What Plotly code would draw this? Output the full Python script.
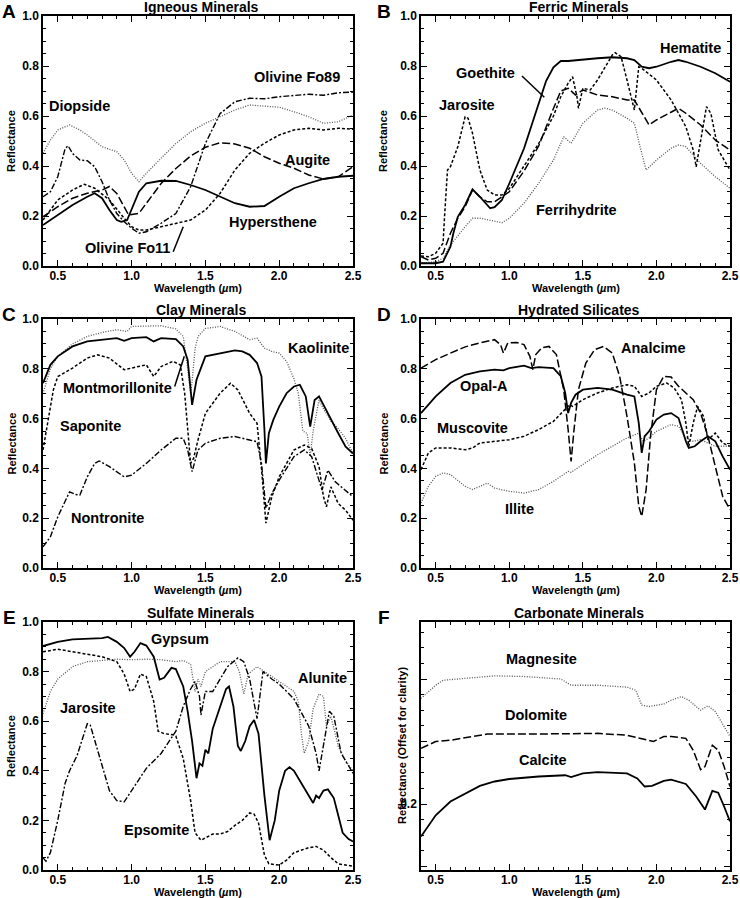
import plotly.graph_objects as go

# ---------------- Panel A: Igneous Minerals ----------------
a_hyp_wl = [0.4,0.5,0.6,0.7,0.75,0.8,0.85,0.9,0.93,0.97,1.0,1.05,1.1,1.2,1.3,1.4,1.5,1.6,1.7,1.8,1.9,2.0,2.1,2.2,2.3,2.4,2.5]
a_hyp_r = [0.164,0.204,0.244,0.277,0.291,0.271,0.224,0.184,0.177,0.184,0.224,0.297,0.331,0.341,0.34,0.324,0.304,0.277,0.251,0.237,0.24,0.277,0.311,0.331,0.348,0.357,0.361]
a_aug_wl = [0.4,0.5,0.6,0.7,0.8,0.85,0.9,0.95,0.98,1.05,1.1,1.2,1.3,1.4,1.5,1.6,1.7,1.8,1.9,2.0,2.1,2.2,2.3,2.4,2.5]
a_aug_r = [0.197,0.237,0.271,0.291,0.304,0.318,0.29,0.237,0.204,0.211,0.25,0.33,0.39,0.44,0.475,0.493,0.488,0.471,0.437,0.411,0.391,0.364,0.348,0.357,0.397]
a_fo11_wl = [0.4,0.5,0.6,0.68,0.75,0.85,0.95,1.0,1.05,1.1,1.2,1.3,1.4,1.5,1.6,1.7,1.8,1.9,2.0,2.1,2.2,2.3,2.4,2.5]
a_fo11_r = [0.184,0.264,0.304,0.327,0.311,0.264,0.191,0.157,0.144,0.144,0.157,0.171,0.184,0.224,0.291,0.384,0.451,0.491,0.524,0.544,0.551,0.544,0.551,0.547]
a_fo89_wl = [0.4,0.45,0.5,0.55,0.57,0.6,0.65,0.7,0.75,0.8,0.85,0.9,0.95,1.0,1.05,1.1,1.2,1.3,1.4,1.5,1.6,1.7,1.8,1.9,2.0,2.1,2.2,2.3,2.4,2.5]
a_fo89_r = [0.277,0.297,0.357,0.47,0.481,0.45,0.424,0.421,0.397,0.337,0.264,0.21,0.177,0.151,0.131,0.137,0.171,0.21,0.317,0.49,0.61,0.657,0.671,0.669,0.677,0.681,0.687,0.683,0.693,0.696]
a_dio_wl = [0.4,0.45,0.5,0.58,0.65,0.7,0.8,0.9,0.95,1.0,1.05,1.1,1.2,1.3,1.4,1.5,1.6,1.7,1.8,1.9,2.0,2.1,2.2,2.3,2.4,2.5]
a_dio_r = [0.451,0.504,0.544,0.564,0.544,0.524,0.477,0.457,0.424,0.371,0.337,0.371,0.431,0.49,0.537,0.571,0.597,0.624,0.644,0.64,0.635,0.617,0.597,0.571,0.577,0.604]

# ---------------- Panel B: Ferric Minerals ----------------
b_hem_wl = [0.4,0.5,0.55,0.58,0.6,0.62,0.65,0.7,0.75,0.8,0.87,0.9,0.95,1.0,1.05,1.1,1.15,1.2,1.25,1.3,1.35,1.4,1.5,1.6,1.7,1.8,1.85,1.9,1.95,2.0,2.1,2.15,2.2,2.3,2.4,2.5]
b_hem_r = [0.011,0.011,0.017,0.051,0.077,0.131,0.197,0.244,0.307,0.277,0.231,0.235,0.264,0.33,0.40,0.47,0.56,0.65,0.74,0.795,0.82,0.82,0.827,0.831,0.835,0.831,0.824,0.797,0.791,0.797,0.817,0.824,0.817,0.797,0.771,0.737]
b_goe_wl = [0.4,0.45,0.5,0.55,0.6,0.65,0.7,0.75,0.8,0.85,0.9,0.95,1.0,1.1,1.2,1.3,1.35,1.4,1.45,1.5,1.6,1.7,1.8,1.85,1.9,1.95,2.0,2.1,2.15,2.2,2.3,2.4,2.5]
b_goe_r = [0.037,0.024,0.031,0.051,0.131,0.191,0.237,0.304,0.277,0.257,0.257,0.277,0.297,0.38,0.48,0.63,0.70,0.711,0.684,0.704,0.684,0.677,0.664,0.664,0.611,0.564,0.584,0.617,0.631,0.611,0.564,0.504,0.464]
b_jar_wl = [0.4,0.45,0.5,0.55,0.56,0.58,0.6,0.65,0.7,0.72,0.75,0.8,0.85,0.9,0.95,1.0,1.1,1.2,1.3,1.35,1.4,1.43,1.46,1.47,1.5,1.55,1.6,1.65,1.7,1.72,1.76,1.8,1.85,1.88,1.9,2.0,2.1,2.2,2.25,2.27,2.3,2.34,2.37,2.42,2.5]
b_jar_r = [0.04,0.037,0.051,0.091,0.197,0.384,0.397,0.477,0.597,0.591,0.531,0.384,0.304,0.284,0.284,0.31,0.40,0.49,0.60,0.677,0.731,0.757,0.677,0.631,0.711,0.704,0.744,0.797,0.844,0.853,0.837,0.744,0.624,0.797,0.791,0.744,0.664,0.557,0.464,0.397,0.504,0.637,0.611,0.464,0.384]
b_fer_wl = [0.4,0.5,0.55,0.6,0.7,0.75,0.8,0.9,0.95,1.0,1.1,1.2,1.3,1.37,1.42,1.5,1.6,1.65,1.7,1.8,1.85,1.9,1.93,2.0,2.1,2.15,2.2,2.3,2.4,2.5]
b_fer_r = [0.011,0.017,0.031,0.084,0.157,0.191,0.191,0.177,0.173,0.191,0.251,0.331,0.424,0.517,0.491,0.571,0.624,0.631,0.624,0.591,0.571,0.451,0.384,0.424,0.471,0.484,0.477,0.411,0.357,0.311]

# ---------------- Panel C: Clay Minerals ----------------
c_kao_wl = [0.4,0.45,0.5,0.6,0.7,0.8,0.9,0.97,1.0,1.1,1.2,1.3,1.35,1.38,1.4,1.41,1.43,1.45,1.5,1.6,1.7,1.8,1.85,1.9,1.95,2.0,2.05,2.1,2.13,2.16,2.19,2.21,2.23,2.27,2.3,2.35,2.4,2.45,2.5]
c_kao_r = [0.70,0.80,0.85,0.90,0.93,0.946,0.957,0.95,0.97,0.972,0.973,0.96,0.93,0.80,0.70,0.75,0.88,0.93,0.962,0.97,0.95,0.917,0.923,0.883,0.87,0.863,0.83,0.76,0.70,0.55,0.54,0.45,0.55,0.675,0.64,0.59,0.56,0.52,0.46]
c_mon_wl = [0.4,0.45,0.5,0.6,0.7,0.8,0.9,0.95,1.0,1.1,1.15,1.2,1.3,1.35,1.38,1.41,1.44,1.5,1.6,1.7,1.75,1.8,1.85,1.88,1.9,1.91,1.93,1.96,2.0,2.05,2.1,2.14,2.18,2.21,2.24,2.27,2.3,2.35,2.4,2.45,2.5]
c_mon_r = [0.742,0.816,0.85,0.89,0.91,0.917,0.923,0.912,0.923,0.927,0.91,0.923,0.919,0.89,0.836,0.655,0.756,0.85,0.863,0.874,0.87,0.856,0.823,0.769,0.554,0.42,0.541,0.595,0.648,0.702,0.729,0.736,0.689,0.568,0.675,0.689,0.655,0.595,0.541,0.487,0.46]
c_sap_wl = [0.4,0.43,0.47,0.5,0.6,0.7,0.77,0.85,0.95,1.0,1.1,1.15,1.2,1.28,1.33,1.36,1.38,1.4,1.42,1.45,1.5,1.6,1.67,1.72,1.8,1.85,1.88,1.91,1.95,2.0,2.1,2.17,2.22,2.27,2.3,2.32,2.35,2.4,2.45,2.5]
c_sap_r = [0.474,0.581,0.715,0.769,0.803,0.843,0.856,0.843,0.796,0.803,0.816,0.769,0.809,0.83,0.816,0.70,0.55,0.42,0.44,0.514,0.621,0.702,0.742,0.715,0.621,0.581,0.40,0.18,0.286,0.366,0.474,0.494,0.48,0.407,0.286,0.246,0.326,0.259,0.232,0.192]
c_non_wl = [0.4,0.45,0.5,0.55,0.58,0.62,0.65,0.7,0.75,0.78,0.85,0.95,1.0,1.1,1.2,1.3,1.35,1.38,1.41,1.45,1.5,1.6,1.7,1.8,1.85,1.88,1.91,1.95,2.0,2.1,2.17,2.22,2.27,2.29,2.33,2.38,2.42,2.5]
c_non_r = [0.085,0.125,0.205,0.272,0.306,0.295,0.293,0.366,0.42,0.43,0.407,0.366,0.373,0.42,0.474,0.521,0.521,0.474,0.387,0.474,0.501,0.521,0.528,0.514,0.507,0.42,0.24,0.299,0.353,0.447,0.474,0.447,0.353,0.313,0.393,0.346,0.326,0.286]

# ---------------- Panel D: Hydrated Silicates ----------------
d_ana_wl = [0.4,0.5,0.6,0.7,0.8,0.9,0.94,0.96,0.99,1.05,1.1,1.14,1.16,1.18,1.22,1.27,1.32,1.37,1.4,1.42,1.44,1.47,1.52,1.58,1.64,1.7,1.75,1.8,1.85,1.88,1.9,1.93,1.96,2.0,2.05,2.1,2.15,2.2,2.25,2.3,2.35,2.4,2.45,2.5]
d_ana_r = [0.803,0.837,0.863,0.888,0.904,0.917,0.897,0.863,0.904,0.906,0.897,0.85,0.797,0.857,0.884,0.89,0.857,0.716,0.556,0.428,0.556,0.716,0.823,0.877,0.89,0.863,0.77,0.609,0.422,0.248,0.207,0.315,0.529,0.716,0.77,0.767,0.73,0.703,0.676,0.622,0.529,0.408,0.288,0.234]
d_opa_wl = [0.4,0.5,0.6,0.7,0.8,0.9,0.96,1.0,1.1,1.15,1.2,1.3,1.35,1.38,1.4,1.42,1.45,1.5,1.6,1.7,1.8,1.85,1.88,1.9,1.92,1.95,2.0,2.05,2.1,2.15,2.2,2.22,2.26,2.3,2.35,2.4,2.45,2.5]
d_opa_r = [0.622,0.689,0.743,0.776,0.79,0.797,0.794,0.803,0.813,0.803,0.807,0.803,0.77,0.703,0.622,0.663,0.696,0.716,0.723,0.716,0.696,0.689,0.582,0.462,0.529,0.549,0.596,0.616,0.622,0.602,0.509,0.482,0.489,0.509,0.529,0.509,0.448,0.395]
d_mus_wl = [0.4,0.45,0.5,0.6,0.7,0.75,0.8,0.9,1.0,1.1,1.2,1.3,1.38,1.41,1.43,1.5,1.6,1.7,1.8,1.85,1.9,1.95,2.0,2.07,2.12,2.17,2.2,2.22,2.25,2.28,2.32,2.35,2.4,2.45,2.5]
d_mus_r = [0.395,0.462,0.482,0.482,0.475,0.482,0.502,0.509,0.515,0.529,0.556,0.589,0.636,0.656,0.649,0.676,0.703,0.723,0.736,0.73,0.689,0.703,0.73,0.743,0.723,0.676,0.582,0.489,0.582,0.649,0.609,0.515,0.542,0.502,0.489]
d_ill_wl = [0.4,0.45,0.5,0.55,0.6,0.7,0.75,0.8,0.85,0.9,1.0,1.1,1.2,1.3,1.4,1.42,1.5,1.6,1.7,1.8,1.88,1.91,1.95,2.0,2.1,2.15,2.2,2.25,2.3,2.35,2.4,2.5]
d_ill_r = [0.261,0.328,0.368,0.382,0.375,0.328,0.315,0.328,0.341,0.321,0.308,0.301,0.315,0.348,0.388,0.384,0.415,0.455,0.489,0.522,0.542,0.509,0.522,0.549,0.576,0.569,0.522,0.509,0.515,0.502,0.489,0.489]

# ---------------- Panel E: Sulfate Minerals ----------------
e_gyp_wl = [0.4,0.5,0.6,0.7,0.8,0.84,0.9,0.95,0.99,1.02,1.06,1.1,1.15,1.19,1.22,1.27,1.3,1.35,1.38,1.41,1.44,1.46,1.48,1.5,1.52,1.55,1.6,1.64,1.66,1.69,1.72,1.74,1.77,1.8,1.83,1.86,1.9,1.935,1.97,2.0,2.04,2.07,2.1,2.15,2.2,2.23,2.25,2.27,2.3,2.33,2.37,2.4,2.43,2.47,2.5]
e_gyp_r = [0.903,0.92,0.93,0.932,0.935,0.94,0.92,0.895,0.86,0.88,0.915,0.905,0.86,0.768,0.775,0.815,0.81,0.74,0.64,0.52,0.37,0.43,0.42,0.485,0.47,0.57,0.66,0.73,0.74,0.66,0.50,0.48,0.52,0.58,0.605,0.55,0.30,0.12,0.20,0.32,0.40,0.415,0.40,0.35,0.30,0.27,0.30,0.29,0.32,0.325,0.29,0.22,0.15,0.125,0.115]
e_eps_wl = [0.4,0.5,0.6,0.7,0.8,0.9,0.95,0.99,1.02,1.06,1.1,1.15,1.18,1.22,1.28,1.3,1.35,1.4,1.43,1.47,1.5,1.55,1.6,1.65,1.7,1.75,1.8,1.83,1.86,1.9,1.93,2.0,2.05,2.1,2.2,2.25,2.3,2.35,2.4,2.5]
e_eps_r = [0.88,0.89,0.88,0.87,0.86,0.84,0.79,0.72,0.73,0.79,0.78,0.68,0.56,0.55,0.545,0.54,0.45,0.28,0.15,0.12,0.13,0.145,0.145,0.155,0.18,0.20,0.23,0.225,0.19,0.06,0.025,0.02,0.04,0.07,0.09,0.095,0.08,0.05,0.025,0.015]
e_alu_wl = [0.4,0.45,0.5,0.6,0.7,0.8,0.9,1.0,1.1,1.2,1.3,1.35,1.4,1.43,1.45,1.47,1.5,1.6,1.7,1.73,1.76,1.79,1.85,1.9,2.0,2.1,2.13,2.15,2.17,2.2,2.23,2.27,2.3,2.32,2.35,2.4,2.45,2.5]
e_alu_r = [0.63,0.72,0.77,0.82,0.84,0.845,0.85,0.848,0.85,0.848,0.84,0.845,0.83,0.72,0.77,0.74,0.80,0.84,0.84,0.80,0.71,0.79,0.82,0.80,0.76,0.72,0.68,0.55,0.47,0.52,0.65,0.71,0.70,0.58,0.62,0.50,0.44,0.40]
e_jar_wl = [0.4,0.42,0.45,0.5,0.55,0.58,0.63,0.7,0.72,0.78,0.85,0.9,0.95,1.0,1.1,1.2,1.3,1.35,1.4,1.43,1.46,1.47,1.5,1.55,1.6,1.65,1.72,1.76,1.8,1.85,1.89,1.95,2.0,2.1,2.2,2.25,2.27,2.3,2.34,2.37,2.42,2.5]
e_jar_r = [0.05,0.035,0.07,0.20,0.35,0.40,0.46,0.59,0.585,0.46,0.32,0.28,0.275,0.32,0.41,0.47,0.56,0.66,0.73,0.76,0.70,0.625,0.72,0.72,0.77,0.82,0.855,0.84,0.77,0.61,0.80,0.77,0.75,0.69,0.58,0.47,0.40,0.50,0.64,0.62,0.47,0.39]

# ---------------- Panel F: Carbonate Minerals (offset) ----------------
f_mag_wl = [0.4,0.5,0.55,0.7,0.9,1.1,1.35,1.42,1.6,1.8,1.86,1.9,1.95,2.05,2.1,2.17,2.22,2.3,2.35,2.4,2.45,2.5]
f_mag_r = [0.369,0.39,0.398,0.401,0.405,0.404,0.40,0.39,0.39,0.387,0.382,0.358,0.356,0.36,0.366,0.372,0.366,0.35,0.357,0.348,0.329,0.308]
f_dol_wl = [0.4,0.5,0.6,0.85,1.2,1.6,1.8,1.9,1.98,2.05,2.1,2.2,2.25,2.3,2.33,2.38,2.42,2.46,2.5]
f_dol_r = [0.289,0.30,0.302,0.312,0.312,0.313,0.31,0.305,0.30,0.308,0.308,0.305,0.286,0.255,0.26,0.294,0.286,0.26,0.228]
f_cal_wl = [0.4,0.45,0.5,0.6,0.7,0.8,0.9,1.0,1.2,1.38,1.42,1.5,1.6,1.8,1.87,1.92,1.97,2.05,2.1,2.2,2.27,2.33,2.38,2.42,2.46,2.5]
f_cal_r = [0.148,0.166,0.182,0.204,0.217,0.229,0.236,0.24,0.244,0.246,0.243,0.249,0.251,0.249,0.241,0.228,0.229,0.237,0.239,0.232,0.212,0.191,0.221,0.218,0.196,0.172]

# Text
panel_letters = ["A", "B", "C", "D", "E", "F"]
panel_titles = ["Igneous Minerals", "Ferric Minerals", "Clay Minerals",
                "Hydrated Silicates", "Sulfate Minerals", "Carbonate Minerals"]
x_tick_vals = [0.5, 1.0, 1.5, 2.0, 2.5]
x_tick_text = ["0.5", "1.0", "1.5", "2.0", "2.5"]
y_tick_vals = [0.0, 0.2, 0.4, 0.6, 0.8, 1.0]
y_tick_text = ["0.0", "0.2", "0.4", "0.6", "0.8", "1.0"]
f_tick_vals = [0.1, 0.2, 0.3, 0.4]
f_tick_text = ["", "0.2", "", ""]

# ---------------- styles ----------------
W, H = 740, 898
FONT = "Liberation Sans, Arial, Helvetica, sans-serif"
SOLID = dict(color="black", width=1.8, dash="solid")
LDASH = dict(color="black", width=1.5, dash="8px,3px")
SDASH = dict(color="black", width=1.5, dash="3px,2px")
DDOT = dict(color="black", width=1.4, dash="6px,2px,2px,2px")
DOT = dict(color="#555555", width=1.3, dash="1px,1.5px")

series = [
    (1, a_dio_wl, a_dio_r, DOT, "Diopside"),
    (1, a_fo89_wl, a_fo89_r, DDOT, "Olivine Fo89"),
    (1, a_aug_wl, a_aug_r, LDASH, "Augite"),
    (1, a_fo11_wl, a_fo11_r, SDASH, "Olivine Fo11"),
    (1, a_hyp_wl, a_hyp_r, SOLID, "Hypersthene"),
    (2, b_fer_wl, b_fer_r, DOT, "Ferrihydrite"),
    (2, b_jar_wl, b_jar_r, SDASH, "Jarosite"),
    (2, b_goe_wl, b_goe_r, LDASH, "Goethite"),
    (2, b_hem_wl, b_hem_r, SOLID, "Hematite"),
    (3, c_kao_wl, c_kao_r, DOT, "Kaolinite"),
    (3, c_non_wl, c_non_r, DDOT, "Nontronite"),
    (3, c_sap_wl, c_sap_r, SDASH, "Saponite"),
    (3, c_mon_wl, c_mon_r, SOLID, "Montmorillonite"),
    (4, d_ill_wl, d_ill_r, DOT, "Illite"),
    (4, d_mus_wl, d_mus_r, SDASH, "Muscovite"),
    (4, d_ana_wl, d_ana_r, LDASH, "Analcime"),
    (4, d_opa_wl, d_opa_r, SOLID, "Opal-A"),
    (5, e_alu_wl, e_alu_r, DOT, "Alunite"),
    (5, e_jar_wl, e_jar_r, DDOT, "Jarosite"),
    (5, e_eps_wl, e_eps_r, SDASH, "Epsomite"),
    (5, e_gyp_wl, e_gyp_r, SOLID, "Gypsum"),
    (6, f_mag_wl, f_mag_r, DOT, "Magnesite"),
    (6, f_dol_wl, f_dol_r, LDASH, "Dolomite"),
    (6, f_cal_wl, f_cal_r, SOLID, "Calcite"),
]

# curve labels (panel, text, x, y) in data units
curve_labels = [
    (1, "Olivine Fo89", 2.12, 0.755), (1, "Diopside", 0.65, 0.64), (1, "Augite", 2.19, 0.424),
    (1, "Hypersthene", 1.96, 0.177), (1, "Olivine Fo11", 0.97, 0.071),
    (2, "Hematite", 2.23, 0.871), (2, "Goethite", 0.84, 0.771), (2, "Jarosite", 0.71, 0.644),
    (2, "Ferrihydrite", 1.46, 0.224),
    (3, "Kaolinite", 2.265, 0.883), (3, "Montmorillonite", 0.905, 0.722), (3, "Saponite", 0.72, 0.57),
    (3, "Nontronite", 0.84, 0.199),
    (4, "Analcime", 1.98, 0.884), (4, "Opal-A", 0.83, 0.73), (4, "Muscovite", 0.75, 0.562),
    (4, "Illite", 1.07, 0.237),
    (5, "Gypsum", 1.325, 0.93), (5, "Alunite", 2.296, 0.775), (5, "Jarosite", 0.705, 0.654),
    (5, "Epsomite", 1.167, 0.162),
    (6, "Magnesite", 1.216, 0.432), (6, "Dolomite", 1.18, 0.342), (6, "Calcite", 1.227, 0.27),
]
# leader lines (panel, x0, y0, x1, y1)
leaders = [
    (1, 1.282, 0.057, 1.35, 0.157),
    (2, 1.086, 0.76, 1.238, 0.675),
    (3, 1.292, 0.729, 1.357, 0.85),
]

# ---------------- layout geometry (pixels) ----------------
cols_px = [(43, 353), (421, 730)]
rows_px = [(16, 266), (319, 568), (622, 870)]

fig = go.Figure()
for p, wl, r, style, name in series:
    fig.add_trace(go.Scatter(x=wl, y=r, mode="lines", line=style, name=name,
                             xaxis=f"x{p}", yaxis=f"y{p}", showlegend=False,
                             hoverinfo="x+y+name"))

layout = dict(width=W, height=H, margin=dict(l=0, r=0, t=0, b=0),
              paper_bgcolor="white", plot_bgcolor="white", showlegend=False,
              font=dict(family=FONT, color="black"))
annotations = []
shapes = []

for i in range(6):
    p = i + 1
    row, col = i // 2, i % 2
    x0, x1 = cols_px[col]
    y0, y1 = rows_px[row]
    xd = [x0 / W, x1 / W]
    yd = [1 - y1 / H, 1 - y0 / H]
    common = dict(showline=True, linecolor="black", linewidth=1.5, mirror="allticks",
                  ticks="inside", ticklen=6, tickwidth=1.3, tickcolor="black",
                  showgrid=False, zeroline=False, automargin=False,
                  tickfont=dict(family=FONT, size=12, color="black", weight="bold"))
    xs = "" if p == 1 else str(p)
    layout[f"xaxis{xs}"] = dict(common, domain=xd, anchor=f"y{xs}",
                                range=[0.4, 2.5], tickvals=x_tick_vals, ticktext=x_tick_text,
                                ticklabeloverflow="allow", ticklabelstandoff=-2,
                                minor=dict(ticks="inside", ticklen=3, tickwidth=1.2, dtick=0.1, tick0=0.0,
                                           tickcolor="black"))
    if p == 6:
        yax = dict(common, domain=yd, anchor="x6", range=[0.0944, 0.4912],
                   tickvals=f_tick_vals, ticktext=f_tick_text,
                   minor=dict(ticks="inside", ticklen=3, tickwidth=1.2, dtick=0.025, tick0=0.0,
                              tickcolor="black"))
    else:
        yax = dict(common, domain=yd, anchor=f"x{xs}", range=[0, 1.0],
                   tickvals=y_tick_vals, ticktext=y_tick_text,
                   minor=dict(ticks="inside", ticklen=3, tickwidth=1.2, dtick=0.05, tick0=0.0,
                              tickcolor="black"))
    layout[f"yaxis{xs}"] = yax

    cx = (x0 + x1) / 2
    # panel title
    annotations.append(dict(text=f"<b>{panel_titles[i]}</b>", x=(cx + 3) / W, y=1 - (y0 - 9) / H,
                            xref="paper", yref="paper", showarrow=False,
                            font=dict(size=14, family=FONT), xanchor="center", yanchor="middle"))
    # panel letter
    lx = 9 if col == 0 else 384
    annotations.append(dict(text=f"<b>{panel_letters[i]}</b>", x=lx / W, y=1 - (y0 - 5) / H,
                            xref="paper", yref="paper", showarrow=False,
                            font=dict(size=19, family=FONT), xanchor="center", yanchor="middle"))
    # x title
    annotations.append(dict(text="<b>Wavelength (<i>µ</i>m)</b>", x=cx / W, y=1 - (y1 + 22) / H,
                            xref="paper", yref="paper", showarrow=False,
                            font=dict(size=11, family=FONT), xanchor="center", yanchor="middle"))
    # y title
    ytxt = "Reflectance (Offset for clarity)" if p == 6 else "Reflectance"
    ytx = 11 if col == 0 else (402 if p == 6 else 383)
    annotations.append(dict(text=f"<b>{ytxt}</b>", x=ytx / W, y=1 - ((y0 + y1) / 2) / H,
                            xref="paper", yref="paper", showarrow=False, textangle=-90,
                            font=dict(size=11, family=FONT), xanchor="center", yanchor="middle"))

for p, txt, x, y in curve_labels:
    annotations.append(dict(text=f"<b>{txt}</b>", x=x, y=y, xref=f"x{p}", yref=f"y{p}",
                            showarrow=False, font=dict(size=14.5, family=FONT),
                            xanchor="center", yanchor="middle"))
for p, xa, ya, xb, yb in leaders:
    shapes.append(dict(type="line", xref=f"x{p}", yref=f"y{p}", x0=xa, y0=ya, x1=xb, y1=yb,
                       line=dict(color="black", width=1.5)))

layout["annotations"] = annotations
layout["shapes"] = shapes
fig.update_layout(**layout)
fig.write_html("out.html", config={"displayModeBar": False},
               post_script="document.body.style.margin='0';document.body.style.overflow='hidden';")
